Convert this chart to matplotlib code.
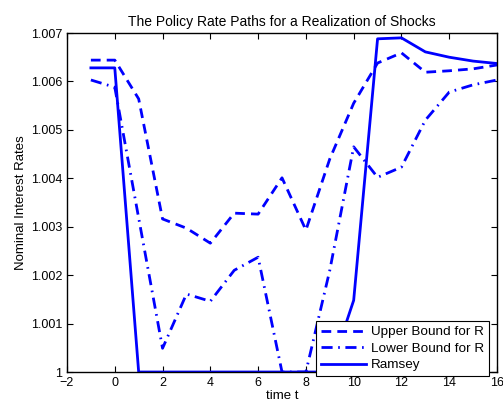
import numpy as np
import matplotlib.pyplot as plt

# time periods
t = np.arange(-1, 17)

upper = [1.00644, 1.00644, 1.00564, 1.00316, 1.00297, 1.00266, 1.00328, 1.00326,
         1.00401, 1.00293, 1.00440, 1.00555, 1.00638, 1.00659, 1.00619, 1.00622,
         1.00626, 1.00634]
lower = [1.00603, 1.00588, 1.00318, 1.00049, 1.00161, 1.00146, 1.00210, 1.00237,
         1.00000, 1.00000, 1.00210, 1.00465, 1.00402, 1.00423, 1.00520, 1.00578,
         1.00593, 1.00603]
ramsey = [1.00628, 1.00628, 1.00000, 1.00000, 1.00000, 1.00000, 1.00000, 1.00000,
          1.00000, 1.00000, 1.00000, 1.00148, 1.00688, 1.00690, 1.00661, 1.00650,
          1.00642, 1.00637]

xticks = np.arange(-2, 17, 2)
yticks = [1.000, 1.001, 1.002, 1.003, 1.004, 1.005, 1.006, 1.007]
ylabels = ['1', '1.001', '1.002', '1.003', '1.004', '1.005', '1.006', '1.007']

plt.rcParams['font.family'] = ['Liberation Sans', 'DejaVu Sans']
fig = plt.figure(figsize=(5.03, 4.04), dpi=100)
ax = fig.add_axes([0.1332, 0.0792, 0.8549, 0.8391])

ax.plot(t, upper, color='blue', lw=2, linestyle=(0, (3.5, 2.2)), label='Upper Bound for R')
ax.plot(t, lower, color='blue', lw=2, linestyle=(0, (4, 2, 0.6, 2)), label='Lower Bound for R')
ax.plot(t, ramsey, color='blue', lw=2, linestyle='-', label='Ramsey')

ax.set_xlim(-2, 16)
ax.set_ylim(1.0, 1.007)
ax.set_xticks(xticks)
ax.set_xticklabels([str(v).replace('-', '\u2212') for v in xticks])
ax.set_yticks(yticks)
ax.set_yticklabels(ylabels)
ax.tick_params(direction='in', top=True, right=True, labelsize=9, length=4, width=0.8)
for s in ax.spines.values():
    s.set_linewidth(1.0)

ax.set_title('The Policy Rate Paths for a Realization of Shocks', fontsize=10, pad=5)
ax.set_xlabel('time t', fontsize=9.5, labelpad=1)
ax.set_ylabel('Nominal Interest Rates', fontsize=9.5, labelpad=3)

leg = ax.legend(loc='lower right', bbox_to_anchor=(0.981, -0.012), fontsize=9.7,
                fancybox=False, edgecolor='black', framealpha=1, borderaxespad=0,
                handlelength=3.3, labelspacing=0.3, borderpad=0.35, handletextpad=0.4)
leg.get_frame().set_linewidth(0.8)

plt.savefig('out.png', dpi=100)
